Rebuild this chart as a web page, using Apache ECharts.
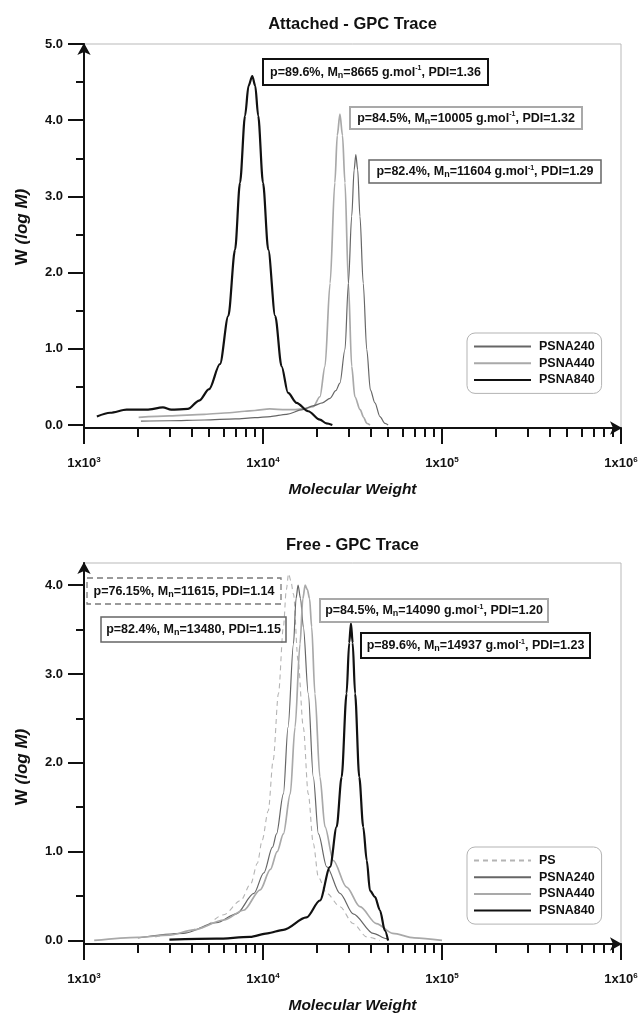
<!DOCTYPE html>
<html>
<head>
<meta charset="utf-8">
<title>GPC Traces</title>
<script src="https://cdn.jsdelivr.net/npm/echarts@6/dist/echarts.min.js"></script>
<style>
  html, body { margin: 0; padding: 0; background: #ffffff; }
  #chart { width: 640px; height: 1014px; }
</style>
</head>
<body>
<div id="chart"></div>
<script>
// ---- GPC traces: [molecular weight, W(log M)] ----
// Attached chains
const attachedPSNA240 = [[2080,0.05],[3000,0.055],[4700,0.065],[7000,0.08],[9000,0.095],[11000,0.11],[13500,0.14],[16700,0.2],[19000,0.25],[21500,0.29],[23700,0.35],[25500,0.45],[26900,0.55],[28700,0.99],[30000,1.86],[31300,2.74],[32300,3.35],[33000,3.55],[33800,3.35],[34800,2.74],[36300,1.86],[38000,0.99],[39800,0.46],[42200,0.29],[45000,0.11],[48000,0.02],[50000,0]];
const attachedPSNA440 = [[2020,0.1],[3000,0.12],[4700,0.14],[6500,0.16],[7900,0.18],[9000,0.19],[10900,0.21],[13400,0.2],[14800,0.2],[16500,0.21],[19100,0.24],[20800,0.37],[22200,0.77],[23700,1.86],[25200,3.18],[26000,3.8],[26900,4.08],[27800,3.8],[28700,3.18],[30000,1.86],[31300,0.77],[32600,0.37],[34900,0.2],[36500,0.1],[38000,0.02],[39600,0]];
const attachedPSNA840 = [[1180,0.11],[1400,0.16],[1730,0.2],[2240,0.2],[2760,0.23],[3070,0.2],[3800,0.21],[4400,0.32],[5000,0.47],[5750,0.8],[6400,1.43],[6980,2.3],[7440,3.18],[7940,4.06],[8300,4.45],[8710,4.58],[9050,4.45],[9400,4.06],[10000,3.18],[10700,2.3],[11700,1.43],[12700,0.77],[13800,0.42],[15400,0.29],[17900,0.18],[20800,0.07],[22600,0.02],[24400,0]];

// Free chains
const freePS = [[2500,0.04],[3500,0.08],[4500,0.14],[6050,0.29],[7500,0.45],[8550,0.64],[9300,0.87],[9900,1.13],[10700,1.46],[11400,2.03],[12200,2.78],[13000,3.53],[13500,3.95],[13900,4.13],[14300,4.05],[14800,3.9],[15700,3.15],[16800,2.4],[17900,1.65],[19100,1.09],[20400,0.71],[22700,0.53],[26900,0.38],[31900,0.19],[38000,0.04],[45000,0]];
const freePSNA240 = [[2000,0.03],[3600,0.08],[5500,0.2],[7100,0.3],[8900,0.53],[10100,0.76],[11300,1.05],[11900,1.2],[13000,1.65],[13800,2.4],[14800,3.34],[15300,3.85],[15700,4.0],[16200,3.85],[16800,3.53],[17900,2.78],[19100,1.84],[20400,1.2],[22700,0.83],[26900,0.53],[31900,0.3],[41300,0.08],[49000,0.02],[50000,0]];
const freePSNA440 = [[1140,0],[2000,0.035],[3000,0.06],[4100,0.12],[6050,0.23],[7800,0.34],[9650,0.57],[11000,0.8],[12000,1.0],[13000,1.2],[14200,1.65],[15100,2.4],[16100,3.34],[16700,3.85],[17200,4.0],[17700,3.95],[18200,3.85],[18700,3.53],[19500,2.78],[20800,1.84],[22200,1.28],[24700,0.9],[29300,0.6],[34800,0.38],[43000,0.19],[53000,0.08],[70000,0.03],[100000,0]];
const freePSNA840 = [[3000,0.01],[5500,0.02],[8460,0.04],[10600,0.08],[13000,0.12],[17500,0.26],[20800,0.45],[23700,0.83],[25800,1.28],[27500,1.84],[29300,2.78],[30300,3.35],[31000,3.57],[31700,3.35],[32700,2.78],[34500,1.84],[36300,1.28],[38000,0.9],[39600,0.56],[42200,0.49],[45000,0.34],[48000,0.11],[50000,0]];

// Tick values
const yMajorTop = [0, 1, 2, 3, 4, 5];
const yMinorTop = [0.5, 1.5, 2.5, 3.5, 4.5];
const yMajorBottom = [0, 1, 2, 3, 4];
const yMinorBottom = [0.5, 1.5, 2.5, 3.5];
const xMinorMultiples = [2, 3, 4, 5, 6, 7, 8, 9];
const xDecades = [3, 4, 5];

// Legend entries
const legendTop = ['PSNA240', 'PSNA440', 'PSNA840'];
const legendBottom = ['PS', 'PSNA240', 'PSNA440', 'PSNA840'];

// Annotation texts: conversion p, Mn, unit shown, PDI
const notesTop = [
  { p: '89.6%', mn: '8665', unit: true, pdi: '1.36' },
  { p: '84.5%', mn: '10005', unit: true, pdi: '1.32' },
  { p: '82.4%', mn: '11604', unit: true, pdi: '1.29' }
];
const notesBottom = [
  { p: '76.15%', mn: '11615', unit: false, pdi: '1.14' },
  { p: '82.4%', mn: '13480', unit: false, pdi: '1.15' },
  { p: '84.5%', mn: '14090', unit: true, pdi: '1.20' },
  { p: '89.6%', mn: '14937', unit: true, pdi: '1.23' }
];

// ---- layout & styling ----
const FONT = "'Liberation Sans', Arial, Helvetica, sans-serif";
const INK = '#111111';
const C240 = '#666666';
const C440 = '#a9a9a9';
const CPS = '#b4b4b4';

const GRID_LEFT = 84, GRID_WIDTH = 537;
const TOP_GRID = { top: 44, height: 384 };
const BOT_GRID = { top: 563, height: 381 };

// Annotation boxes [x, y, w, h] and their frame styles
const boxesTop = [[263, 59, 225, 26], [350, 107, 232, 22], [369, 160, 232, 23]];
const boxStylesTop = [
  { stroke: INK, lineWidth: 2 },
  { stroke: C440, lineWidth: 2 },
  { stroke: C240, lineWidth: 1.5 }
];
const boxesBottom = [[87, 578, 194, 26], [101, 617, 185, 25], [320, 599, 228, 23], [361, 633, 229, 25]];
const boxStylesBottom = [
  { stroke: '#7a7a7a', lineWidth: 1.3, lineDash: [6, 4] },
  { stroke: C240, lineWidth: 1.5 },
  { stroke: C440, lineWidth: 2 },
  { stroke: INK, lineWidth: 2 }
];

const minorLogTicks = [];
xDecades.forEach(function (d) {
  xMinorMultiples.forEach(function (k) { minorLogTicks.push(Math.log10(k) + d); });
});

const richNote = {
  n: { fontSize: 9, fontWeight: 'bold', fontFamily: FONT, fill: INK, color: INK, verticalAlign: 'bottom', lineHeight: 9 },
  s: { fontSize: 7, fontWeight: 'bold', fontFamily: FONT, fill: INK, color: INK, verticalAlign: 'top', lineHeight: 7 },
  t: { fontSize: 12.5, fontWeight: 'bold', fontFamily: FONT, fill: INK, color: INK, lineHeight: 15 }
};

function noteText(n) {
  return '{t|p=' + n.p + ', M}{n|n}{t|=' + n.mn + (n.unit ? ' g.mol}{s|-1}{t|' : '') + ', PDI=' + n.pdi + '}';
}

function noteGraphics(notes, boxes, styles) {
  const out = [];
  notes.forEach(function (n, i) {
    const b = boxes[i];
    const st = styles[i];
    out.push({
      type: 'rect', silent: true, z: 20,
      shape: { x: b[0], y: b[1], width: b[2], height: b[3] },
      style: { fill: 'rgba(255,255,255,0)', stroke: st.stroke, lineWidth: st.lineWidth, lineDash: st.lineDash || null }
    });
    out.push({
      type: 'text', silent: true, z: 21,
      x: b[0] + b[2] / 2, y: b[1] + b[3] / 2 + 0.5,
      style: { text: noteText(n), rich: richNote, align: 'center', verticalAlign: 'middle', fill: INK }
    });
  });
  return out;
}

function yNameGraphic(y) {
  return {
    type: 'text', silent: true, x: 22, y: y, rotation: Math.PI / 2,
    style: {
      text: '{w|W }{i|(log M)}', align: 'center', verticalAlign: 'middle',
      rich: {
        w: { fontSize: 17, fontWeight: 'bold', fontFamily: FONT, fill: INK },
        i: { fontSize: 17, fontWeight: 'bold', fontStyle: 'italic', fontFamily: FONT, fill: INK }
      }
    }
  };
}

function gridOf(g, framed) {
  return {
    left: GRID_LEFT, width: GRID_WIDTH, top: g.top, height: g.height,
    show: framed, borderColor: '#b9b9b9', borderWidth: 1, backgroundColor: 'transparent',
    containLabel: false, outerBoundsMode: 'none'
  };
}

function mainXAxis(gridIndex) {
  return {
    type: 'log', logBase: 10, min: 1000, max: 1000000, gridIndex: gridIndex,
    position: 'bottom',
    name: 'Molecular Weight', nameLocation: 'middle', nameGap: 54,
    nameTextStyle: { fontSize: 15.5, fontWeight: 'bold', fontStyle: 'italic', fontFamily: FONT, color: INK },
    axisLine: { show: true, onZero: false, symbol: ['none', 'arrow'], symbolSize: [10, 12], symbolOffset: [0, 1],
      lineStyle: { color: INK, width: 2 } },
    axisTick: { show: true, inside: false, length: 16, lineStyle: { color: INK, width: 2 } },
    minorTick: { show: false },
    splitLine: { show: false },
    minorSplitLine: { show: false },
    axisLabel: {
      show: true, margin: 28, color: INK,
      formatter: function (v) { return '{a|1x10}{e|' + Math.round(Math.log10(v)) + '}'; },
      rich: {
        a: { fontSize: 13, fontWeight: 'bold', fontFamily: FONT, color: INK, lineHeight: 15 },
        e: { fontSize: 8, fontWeight: 'bold', fontFamily: FONT, color: INK, verticalAlign: 'top', lineHeight: 8 }
      }
    }
  };
}

function minorXAxis(gridIndex) {
  return {
    type: 'value', min: 3, max: 6, gridIndex: gridIndex, position: 'bottom',
    axisLine: { show: false, onZero: false },
    axisTick: { show: true, inside: false, length: 9, customValues: minorLogTicks, lineStyle: { color: INK, width: 2 } },
    axisLabel: { show: false },
    splitLine: { show: false }
  };
}

function mainYAxis(gridIndex, max, major) {
  return {
    type: 'value', min: -0.04, max: max, gridIndex: gridIndex, position: 'left',
    axisLine: { show: true, onZero: false, symbol: ['none', 'arrow'], symbolSize: [10, 12], symbolOffset: [0, 1],
      lineStyle: { color: INK, width: 2 } },
    axisTick: { show: true, inside: false, length: 16, customValues: major, lineStyle: { color: INK, width: 2 } },
    axisLabel: {
      show: true, margin: 21, customValues: major,
      fontSize: 13, fontWeight: 'bold', fontFamily: FONT, color: INK,
      formatter: function (v) { return Number(v).toFixed(1); }
    },
    splitLine: { show: false }
  };
}

function minorYAxis(gridIndex, max, minor) {
  return {
    type: 'value', min: -0.04, max: max, gridIndex: gridIndex, position: 'left',
    axisLine: { show: false, onZero: false },
    axisTick: { show: true, inside: false, length: 8, customValues: minor, lineStyle: { color: INK, width: 2 } },
    axisLabel: { show: false },
    splitLine: { show: false }
  };
}

function trace(name, data, axisIndex, color, width, dash, z) {
  return {
    type: 'line', name: name, data: data,
    xAxisIndex: axisIndex, yAxisIndex: axisIndex,
    symbol: 'none', showSymbol: false, smooth: 0.3, smoothMonotone: 'x',
    lineStyle: { color: color, width: width, type: dash ? [5, 4] : 'solid' },
    itemStyle: { color: color },
    z: z, silent: true, animation: false
  };
}

function legendOf(names, top) {
  return {
    data: names, orient: 'vertical', left: 467, top: top,
    padding: [7, 7, 7, 6], itemWidth: 57, itemHeight: 14, itemGap: 3.7,
    borderColor: '#b3b3b3', borderWidth: 1, borderRadius: 8, backgroundColor: '#ffffff',
    selectedMode: false,
    // line-only keys: hide the marker that line series put in the middle
    itemStyle: { opacity: 0 },
    textStyle: { fontSize: 12.5, fontWeight: 'bold', fontFamily: FONT, color: INK, padding: [0, 0, 0, 3] }
  };
}

const chart = echarts.init(document.getElementById('chart'), null, { renderer: 'canvas' });

chart.setOption({
  animation: false,
  backgroundColor: '#ffffff',
  title: [
    { text: 'Attached - GPC Trace', left: 352.5, top: 16, textAlign: 'center', padding: 0,
      textStyle: { fontSize: 16.5, fontWeight: 'bold', fontFamily: FONT, color: INK } },
    { text: 'Free - GPC Trace', left: 352.5, top: 537, textAlign: 'center', padding: 0,
      textStyle: { fontSize: 16.5, fontWeight: 'bold', fontFamily: FONT, color: INK } }
  ],
  grid: [gridOf(TOP_GRID, true), gridOf(BOT_GRID, true), gridOf(TOP_GRID, false), gridOf(BOT_GRID, false)],
  xAxis: [mainXAxis(0), mainXAxis(1), minorXAxis(2), minorXAxis(3)],
  yAxis: [mainYAxis(0, 5.0, yMajorTop), mainYAxis(1, 4.25, yMajorBottom), minorYAxis(2, 5.0, yMinorTop), minorYAxis(3, 4.25, yMinorBottom)],
  legend: [legendOf(legendTop, 333), legendOf(legendBottom, 847)],
  series: [
    trace('PSNA240', attachedPSNA240, 0, C240, 1.2, false, 3),
    trace('PSNA440', attachedPSNA440, 0, C440, 1.7, false, 2),
    trace('PSNA840', attachedPSNA840, 0, INK, 2.2, false, 4),
    trace('PS', freePS, 1, CPS, 1.1, true, 2),
    trace('PSNA240', freePSNA240, 1, C240, 1.2, false, 3),
    trace('PSNA440', freePSNA440, 1, C440, 1.7, false, 3),
    trace('PSNA840', freePSNA840, 1, INK, 2.2, false, 4)
  ],
  graphic: [yNameGraphic(227), yNameGraphic(767)]
    .concat(noteGraphics(notesTop, boxesTop, boxStylesTop))
    .concat(noteGraphics(notesBottom, boxesBottom, boxStylesBottom))
});
</script>
</body>
</html>
